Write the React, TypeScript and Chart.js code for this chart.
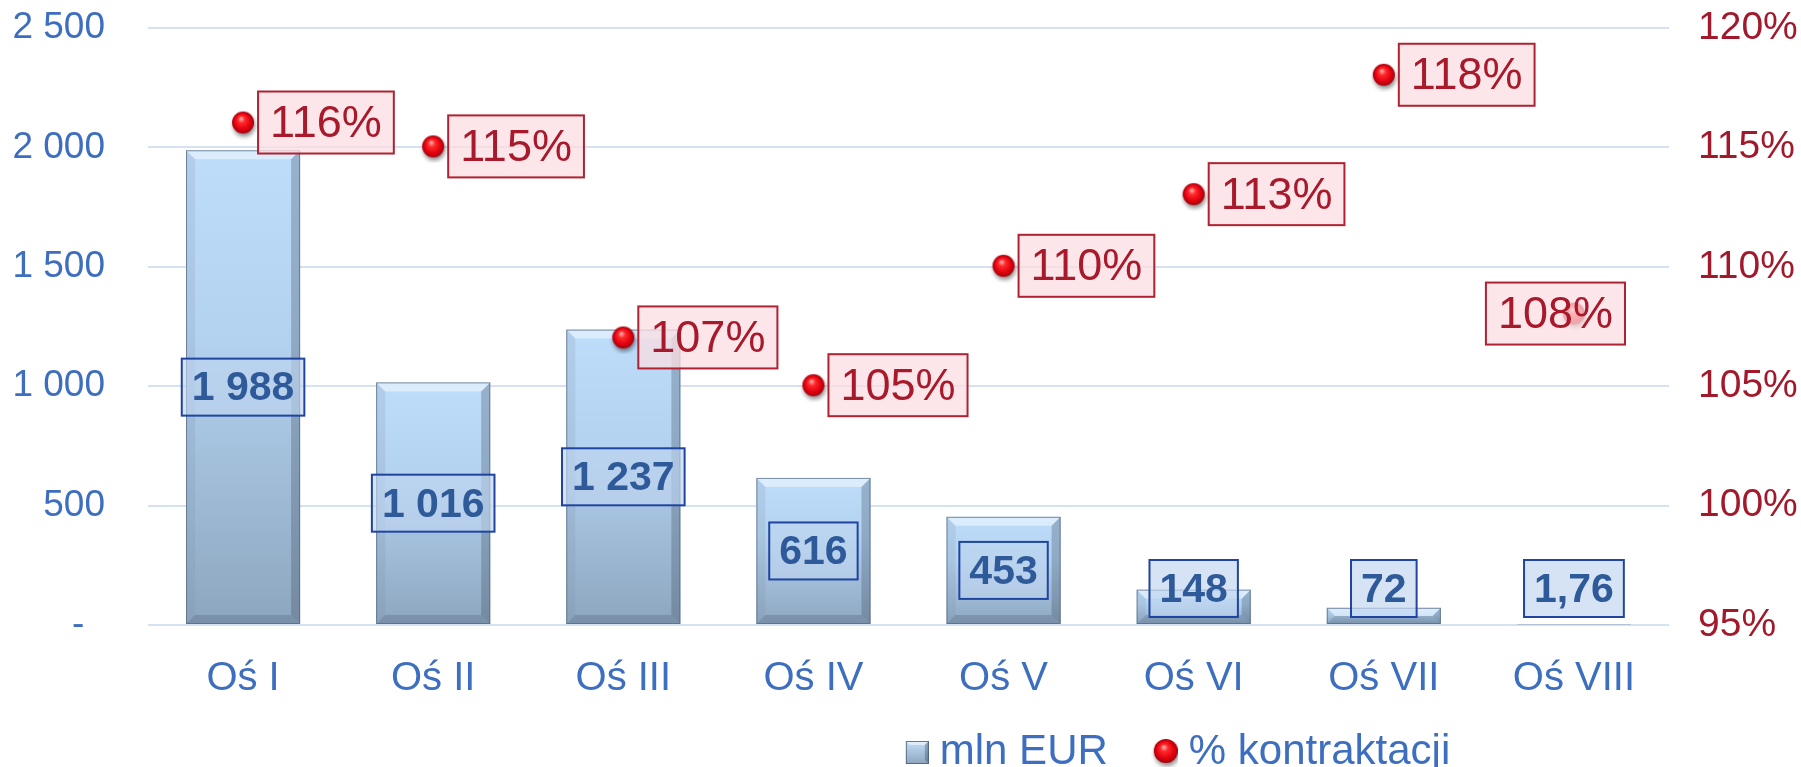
import React, { useEffect, useRef } from 'react';
import { Chart, registerables } from 'chart.js';

Chart.register(...registerables);

const categories = ['Oś I', 'Oś II', 'Oś III', 'Oś IV', 'Oś V', 'Oś VI', 'Oś VII', 'Oś VIII'];
const mlnEur = [1988, 1016, 1237, 616, 453, 148, 72, 1.76];
const kontraktacja = [116, 115, 107, 105, 110, 113, 118, 108];
const seriesNames = ['mln EUR', '% kontraktacji'];
const leftAxis = { min: 0, max: 2500, step: 500 };
const rightAxis = { min: 95, max: 120, step: 5 };

const FONT = '"Liberation Sans", Arial, Helvetica, sans-serif';
const BLUE = '#3D6EBF';
const RED = '#A3192C';

function formatPl(v: number): string {
  if (Number.isInteger(v)) {
    return String(v).replace(/\B(?=(\d{3})+(?!\d))/g, ' ');
  }
  return v.toFixed(2).replace('.', ',');
}

function makeSphere(width: number, height: number, cx: number, cy: number, r: number) {
  const c = document.createElement('canvas');
  c.width = width;
  c.height = height;
  const g = c.getContext('2d')!;
  g.save();
  g.shadowColor = 'rgba(0,0,0,0.45)';
  g.shadowBlur = 4;
  g.shadowOffsetY = 3;
  g.shadowOffsetX = 1;
  const grad = g.createRadialGradient(cx - 2, cy - 4, 1, cx, cy, r);
  grad.addColorStop(0, '#ff9a9a');
  grad.addColorStop(0.25, '#ff2a2a');
  grad.addColorStop(0.7, '#e3000f');
  grad.addColorStop(1, '#a0000c');
  g.fillStyle = grad;
  g.beginPath();
  g.arc(cx, cy, r, 0, Math.PI * 2);
  g.fill();
  g.restore();
  return c;
}

function makeBarIcon(width: number, height: number, x0: number, y0: number, s: number) {
  const c = document.createElement('canvas');
  c.width = width;
  c.height = height;
  const g = c.getContext('2d')!;
  const grad = g.createLinearGradient(0, y0, 0, y0 + s);
  grad.addColorStop(0, '#C4E0FA');
  grad.addColorStop(1, '#8DA5BD');
  g.fillStyle = grad;
  g.fillRect(x0, y0, s, s);
  const bv = 4;
  g.fillStyle = 'rgba(255,255,255,0.5)';
  g.beginPath();
  g.moveTo(x0, y0); g.lineTo(x0 + s, y0); g.lineTo(x0 + s - bv, y0 + bv); g.lineTo(x0 + bv, y0 + bv);
  g.fill();
  g.fillStyle = 'rgba(50,70,95,0.35)';
  g.beginPath();
  g.moveTo(x0 + s, y0); g.lineTo(x0 + s, y0 + s); g.lineTo(x0 + s - bv, y0 + s - bv); g.lineTo(x0 + s - bv, y0 + bv);
  g.fill();
  g.strokeStyle = 'rgba(70,90,115,0.8)';
  g.lineWidth = 1;
  g.strokeRect(x0 + 0.5, y0 + 0.5, s - 1, s - 1);
  return c;
}

const bevelPlugin = {
  id: 'barBevel',
  afterDatasetDraw(chart: any, args: any) {
    if (args.meta.type !== 'bar') return;
    const ctx = chart.ctx;
    ctx.save();
    args.meta.data.forEach((el: any) => {
      const { x, y, base, width } = el.getProps(['x', 'y', 'base', 'width'], true);
      const l = x - width / 2, r = x + width / 2;
      const t = Math.min(y, base), b = Math.max(y, base);
      const h = b - t;
      if (h < 2) return;
      const bv = Math.min(9, h / 2);
      const poly = (pts: number[][], fill: string) => {
        ctx.fillStyle = fill;
        ctx.beginPath();
        ctx.moveTo(pts[0][0], pts[0][1]);
        for (let i = 1; i < pts.length; i++) ctx.lineTo(pts[i][0], pts[i][1]);
        ctx.closePath();
        ctx.fill();
      };
      poly([[l, t], [r, t], [r - bv, t + bv], [l + bv, t + bv]], 'rgba(255,255,255,0.45)');
      poly([[l, t], [l + bv, t + bv], [l + bv, b - bv], [l, b]], 'rgba(120,140,165,0.18)');
      poly([[r, t], [r - bv, t + bv], [r - bv, b - bv], [r, b]], 'rgba(50,65,85,0.28)');
      poly([[l, b], [l + bv, b - bv], [r - bv, b - bv], [r, b]], 'rgba(60,80,105,0.25)');
      ctx.strokeStyle = 'rgba(85,105,130,0.75)';
      ctx.lineWidth = 1;
      ctx.strokeRect(l + 0.5, t + 0.5, width - 1, h - 1);
    });
    ctx.restore();
  },
};

const labelsPlugin = {
  id: 'valueLabels',
  afterDatasetsDraw(chart: any) {
    const ctx = chart.ctx;
    const area = chart.chartArea;
    ctx.save();
    const barMeta = chart.getDatasetMeta(0);
    ctx.font = `bold 41px ${FONT}`;
    ctx.textAlign = 'center';
    ctx.textBaseline = 'middle';
    barMeta.data.forEach((el: any, i: number) => {
      const { x, y, base } = el.getProps(['x', 'y', 'base'], true);
      const text = formatPl(mlnEur[i]);
      const w = ctx.measureText(text).width + 20;
      const h = 57;
      let cy = (y + base) / 2;
      cy = Math.min(cy, base - 7 - h / 2);
      ctx.fillStyle = 'rgba(190,212,238,0.65)';
      ctx.fillRect(x - w / 2, cy - h / 2, w, h);
      ctx.strokeStyle = '#1F45A0';
      ctx.lineWidth = 2;
      ctx.strokeRect(x - w / 2, cy - h / 2, w, h);
      ctx.fillStyle = '#2E5A9A';
      ctx.fillText(text, x, cy + 2);
    });
    const lineMeta = chart.getDatasetMeta(1);
    ctx.font = `45px ${FONT}`;
    ctx.textAlign = 'center';
    lineMeta.data.forEach((el: any, i: number) => {
      const { x, y } = el.getProps(['x', 'y'], true);
      const text = kontraktacja[i] + '%';
      const w = ctx.measureText(text).width + 24;
      const h = 62;
      let left = x + 15;
      left = Math.min(left, area.right - 44 - w);
      const cy = y - 1;
      ctx.fillStyle = 'rgba(251,221,226,0.75)';
      ctx.fillRect(left, cy - h / 2, w, h);
      ctx.strokeStyle = '#AE2231';
      ctx.lineWidth = 2;
      ctx.strokeRect(left, cy - h / 2, w, h);
      ctx.fillStyle = '#A8192B';
      ctx.fillText(text, left + w / 2, cy + 2);
    });
    ctx.restore();
  },
};

const layoutTweakPlugin = {
  id: 'layoutTweak',
  afterLayout(chart: any) {
    const lg = chart.legend;
    if (lg) {
      lg.left += 272;
      lg.right += 272;
      lg.top += 16;
      lg.bottom += 16;
    }
    const xs = chart.scales.x;
    if (xs) xs.bottom = chart.height;
  },
};

export default function App() {
  const ref = useRef<HTMLCanvasElement | null>(null);

  useEffect(() => {
    document.body.style.margin = '0';
    document.body.style.overflow = 'hidden';
    const canvas = ref.current;
    if (!canvas) return;

    const sphere = makeSphere(32, 32, 16, 15, 11);
    const legendSphere = makeSphere(44, 32, 32, 15, 12);
    const legendBar = makeBarIcon(44, 32, 21, 5, 23);

    const barFill = (c: any) => {
      const chart = c.chart;
      if (!chart.chartArea || c.type !== 'data') return '#B0CDEA';
      const ys = chart.scales.y;
      const top = ys.getPixelForValue(c.raw);
      const base = ys.getPixelForValue(0);
      if (Math.abs(base - top) < 1) return '#8FA8C0';
      const g = chart.ctx.createLinearGradient(0, top, 0, base);
      g.addColorStop(0, '#BEDDFA');
      g.addColorStop(0.4, '#B3D2EF');
      g.addColorStop(1, '#8DA6BF');
      return g;
    };

    const noPad = (s: any) => {
      s.paddingTop = 0;
      s.paddingBottom = 0;
    };

    const chart = new Chart(canvas, {
      type: 'bar',
      data: {
        labels: categories,
        datasets: [
          {
            type: 'bar',
            label: seriesNames[0],
            data: mlnEur,
            yAxisID: 'y',
            backgroundColor: barFill,
            borderWidth: 0,
            barPercentage: 0.6,
            categoryPercentage: 1,
            order: 1,
          },
          {
            type: 'line',
            label: seriesNames[1],
            data: kontraktacja,
            yAxisID: 'y1',
            showLine: false,
            pointStyle: sphere as any,
            pointRadius: 11,
            pointHoverRadius: 11,
            order: 0,
          } as any,
        ],
      },
      options: {
        responsive: false,
        animation: false,
        layout: { padding: { top: 28, left: 0, right: 0, bottom: 0 } },
        plugins: {
          tooltip: { enabled: false },
          legend: {
            position: 'bottom',
            labels: {
              usePointStyle: true,
              pointStyleWidth: 24,
              padding: 36,
              color: BLUE,
              font: { family: FONT, size: 42 },
              generateLabels: () => [
                {
                  text: seriesNames[0],
                  pointStyle: legendBar as any,
                  fillStyle: '#B0CDEA',
                  strokeStyle: 'transparent',
                  lineWidth: 0,
                  hidden: false,
                  datasetIndex: 0,
                  fontColor: BLUE,
                },
                {
                  text: seriesNames[1],
                  pointStyle: legendSphere as any,
                  fillStyle: '#e3000f',
                  strokeStyle: 'transparent',
                  lineWidth: 0,
                  hidden: false,
                  datasetIndex: 1,
                  fontColor: BLUE,
                },
              ],
            },
          },
        },
        scales: {
          x: {
            grid: { display: false, drawTicks: false },
            border: { display: false },
            ticks: {
              color: BLUE,
              font: { family: FONT, size: 40 },
              padding: 30,
              maxRotation: 0,
            },
            afterFit: (s: any) => {
              s.height = 54;
            },
          },
          y: {
            position: 'left',
            min: leftAxis.min,
            max: leftAxis.max,
            grid: { color: '#D6E1F1', lineWidth: 2, drawTicks: false },
            border: { display: false },
            ticks: {
              stepSize: leftAxis.step,
              color: BLUE,
              font: { family: FONT, size: 37 },
              padding: 43,
              callback: (v: any) => (Number(v) === 0 ? '-  ' : formatPl(Number(v))),
            },
            afterFit: (s: any) => {
              s.width = 148;
              noPad(s);
            },
          },
          y1: {
            position: 'right',
            min: rightAxis.min,
            max: rightAxis.max,
            grid: { display: false, drawTicks: false },
            border: { display: false },
            ticks: {
              stepSize: rightAxis.step,
              color: RED,
              font: { family: FONT, size: 39 },
              padding: 29,
              callback: (v: any) => v + '%',
            },
            afterFit: (s: any) => {
              s.width = 132;
              noPad(s);
            },
          },
        },
      },
      plugins: [bevelPlugin, labelsPlugin, layoutTweakPlugin],
    });

    return () => {
      chart.destroy();
    };
  }, []);

  return (
    <div style={{ width: 1801, height: 767, position: 'relative' }}>
      <canvas ref={ref} width={1801} height={767} style={{ display: 'block' }} />
    </div>
  );
}
